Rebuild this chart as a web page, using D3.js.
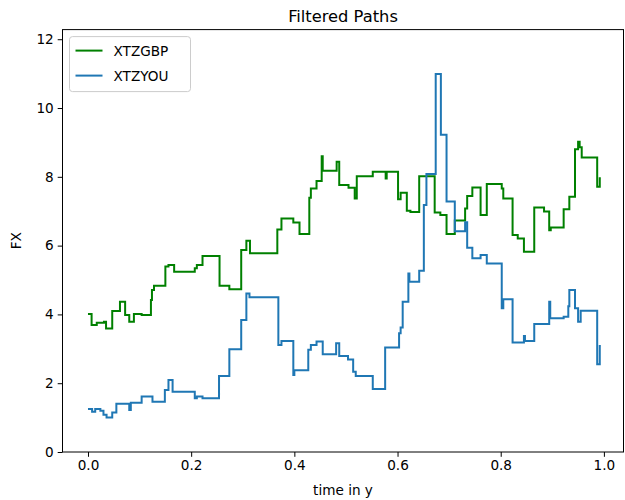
<!DOCTYPE html>
<html>
<head>
<meta charset="utf-8">
<script src="https://cdn.jsdelivr.net/npm/d3@7"></script>
<style>
  body { margin: 0; background: #fff; }
  text { font-family: "DejaVu Sans", sans-serif; }
</style>
</head>
<body>
<div id="chart"></div>
<script>
// step times (steps-post) and values
const gbpTimes = [0, 0.007, 0.017, 0.031, 0.035, 0.047, 0.062, 0.072, 0.080, 0.089, 0.104, 0.122, 0.124, 0.128,
    0.150, 0.156, 0.167, 0.207, 0.211, 0.222, 0.255, 0.274, 0.297, 0.307, 0.314, 0.367, 0.375, 0.398, 0.410,
    0.429, 0.432, 0.443, 0.453, 0.455, 0.482, 0.487, 0.505, 0.517, 0.521, 0.552, 0.577, 0.579, 0.601, 0.606,
    0.618, 0.625, 0.642, 0.672, 0.683, 0.695, 0.711, 0.731, 0.735, 0.745, 0.761, 0.773, 0.802, 0.805, 0.823,
    0.833, 0.845, 0.865, 0.884, 0.894, 0.897, 0.922, 0.933, 0.944, 0.950, 0.953, 0.957, 0.987, 0.992, 0.994];
const gbpValues = [4.01, 3.69, 3.76, 3.79, 3.59, 4.10, 4.37, 3.98, 3.79, 4.01, 3.98, 4.42, 4.71, 4.83,
    5.39, 5.44, 5.24, 5.34, 5.44, 5.70, 4.83, 4.73, 5.87, 6.14, 5.78, 6.47, 6.79, 6.67, 6.34,
    7.39, 7.66, 7.88, 8.60, 8.18, 8.44, 7.76, 7.68, 7.37, 8.02, 8.15, 7.95, 8.15, 7.35, 7.54,
    7.01, 6.98, 8.02, 6.96, 6.89, 6.34, 6.73, 7.08, 7.44, 7.69, 6.89, 7.79, 7.66, 7.37, 6.31,
    6.21, 5.82, 7.11, 6.99, 6.45, 6.53, 7.06, 7.42, 8.80, 9.02, 8.86, 8.56, 7.71, 7.96, 7.96];

const youTimes = [0, 0.008, 0.014, 0.024, 0.030, 0.036, 0.047, 0.055, 0.080, 0.083, 0.104, 0.125, 0.149,
    0.156, 0.164, 0.207, 0.211, 0.222, 0.254, 0.274, 0.297, 0.307, 0.313, 0.369, 0.375, 0.398, 0.400,
    0.427, 0.432, 0.443, 0.455, 0.481, 0.487, 0.504, 0.514, 0.519, 0.552, 0.576, 0.603, 0.606, 0.610,
    0.621, 0.623, 0.642, 0.651, 0.656, 0.674, 0.684, 0.695, 0.711, 0.731, 0.735, 0.745, 0.761, 0.773,
    0.802, 0.805, 0.823, 0.845, 0.847, 0.865, 0.894, 0.896, 0.922, 0.931, 0.933, 0.944, 0.950, 0.955,
    0.987, 0.992, 0.994];
const youValues = [1.25, 1.17, 1.25, 1.20, 1.08, 1.00, 1.15, 1.40, 1.22, 1.43, 1.61, 1.46, 1.80,
    2.09, 1.75, 1.56, 1.61, 1.56, 2.21, 2.99, 3.84, 4.61, 4.50, 3.11, 3.23, 2.24, 2.38,
    2.97, 3.11, 3.21, 2.84, 3.16, 2.79, 2.69, 2.33, 2.21, 1.83, 3.04, 3.45, 3.62, 4.37,
    5.19, 4.95, 5.27, 7.18, 8.08, 10.99, 9.22, 7.28, 6.42, 6.68, 5.94, 5.63, 5.73, 5.48,
    4.18, 4.44, 3.18, 3.37, 3.23, 3.72, 4.37, 3.89, 3.93, 4.24, 4.71, 4.18, 3.79, 4.11,
    2.55, 3.08, 3.08];

const seriesNames = ["XTZGBP", "XTZYOU"];
const seriesColors = ["green", "#1f77b4"];
const xTicks = [0, 0.2, 0.4, 0.6, 0.8, 1.0];
const yTicks = [0, 2, 4, 6, 8, 10, 12];

const width = 625, height = 500;
const plotLeft = 62.5, plotRight = 623.5, plotTop = 29.6, plotBottom = 452;

const svg = d3.select("#chart").append("svg")
    .attr("width", width)
    .attr("height", height);

const x = d3.scaleLinear().domain([-0.0494, 1.038]).range([plotLeft, plotRight]);
const y = d3.scaleLinear().domain([0, 12.28]).range([plotBottom, plotTop]);

const series = [
    gbpTimes.map((t, i) => [t, gbpValues[i]]),
    youTimes.map((t, i) => [t, youValues[i]])
];

const line = d3.line()
    .x(d => x(d[0]))
    .y(d => y(d[1]))
    .curve(d3.curveStepAfter);

series.forEach((s, i) => {
    svg.append("path")
        .datum(s)
        .attr("d", line)
        .attr("fill", "none")
        .attr("stroke", seriesColors[i])
        .attr("stroke-width", 2);
});

// axes
const xAxis = svg.append("g")
    .attr("transform", `translate(0,${plotBottom})`)
    .call(d3.axisBottom(x).tickValues(xTicks).tickFormat(d3.format(".1f")).tickSize(4.8).tickPadding(4));
const yAxis = svg.append("g")
    .attr("transform", `translate(${plotLeft},0)`)
    .call(d3.axisLeft(y).tickValues(yTicks).tickFormat(d3.format("d")).tickSize(4.8).tickPadding(4));

[xAxis, yAxis].forEach(g => {
    g.select(".domain").remove();
    g.selectAll("text").attr("font-size", 13.6).attr("fill", "#000")
        .attr("font-family", "DejaVu Sans, sans-serif");
    g.selectAll("line").attr("stroke", "#000").attr("stroke-width", 1);
});

// frame
svg.append("rect")
    .attr("x", plotLeft)
    .attr("y", plotTop)
    .attr("width", plotRight - plotLeft)
    .attr("height", plotBottom - plotTop)
    .attr("fill", "none")
    .attr("stroke", "#000")
    .attr("stroke-width", 1);

svg.append("text")
    .attr("x", (plotLeft + plotRight) / 2)
    .attr("y", 22)
    .attr("text-anchor", "middle")
    .attr("font-size", 16.3)
    .text("Filtered Paths");

svg.append("text")
    .attr("x", (plotLeft + plotRight) / 2)
    .attr("y", 495)
    .attr("text-anchor", "middle")
    .attr("font-size", 13.6)
    .text("time in y");

svg.append("text")
    .attr("transform", `translate(21,${(plotTop + plotBottom) / 2}) rotate(-90)`)
    .attr("text-anchor", "middle")
    .attr("font-size", 13.6)
    .text("FX");

// legend
const legend = svg.append("g").attr("transform", `translate(${plotLeft + 7},${plotTop + 7})`);
legend.append("rect")
    .attr("width", 121)
    .attr("height", 55)
    .attr("rx", 3)
    .attr("fill", "#fff")
    .attr("fill-opacity", 0.8)
    .attr("stroke", "#ccc")
    .attr("stroke-width", 1);

seriesNames.forEach((name, i) => {
    const cy = 14 + i * 25;
    legend.append("line")
        .attr("x1", 6).attr("x2", 33)
        .attr("y1", cy).attr("y2", cy)
        .attr("stroke", seriesColors[i])
        .attr("stroke-width", 2);
    legend.append("text")
        .attr("x", 44)
        .attr("y", cy + 5)
        .attr("font-size", 13.6)
        .text(name);
});
</script>
</body>
</html>
